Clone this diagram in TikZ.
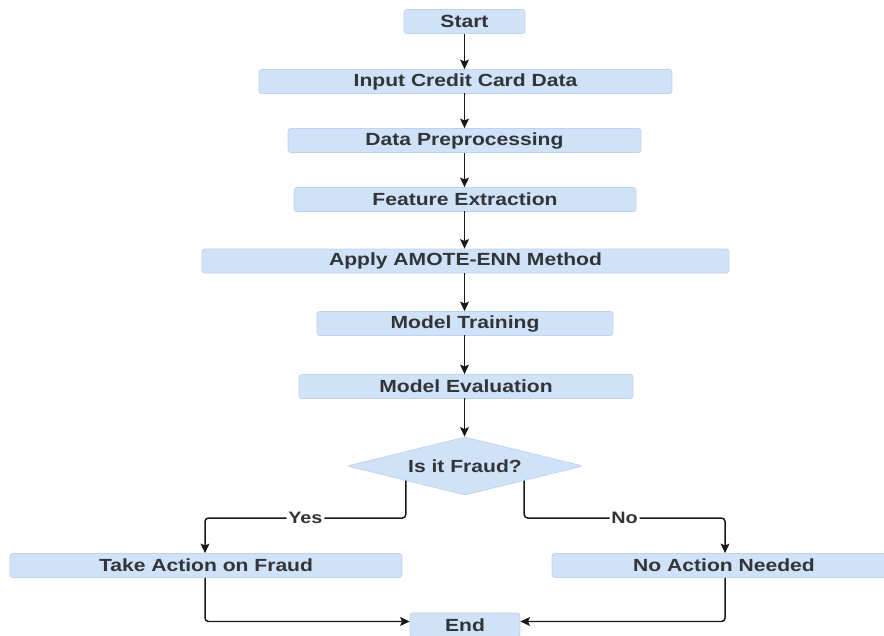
\documentclass[tikz,border=0pt]{standalone}
\usepackage{fontspec}
\setmainfont{Liberation Sans}[FakeStretch=1.2]
\usetikzlibrary{shapes.geometric,arrows.meta}
\definecolor{boxfill}{RGB}{207,226,248}
\definecolor{boxline}{RGB}{192,211,238}
\definecolor{textgrey}{RGB}{50,52,56}
\tikzset{
  stepbox/.style={draw=boxline, fill=boxfill, rounded corners=1.5pt, inner sep=0pt,
    minimum height=0.48cm, text=textgrey, font=\fontsize{10}{12}\selectfont\bfseries},
  decision/.style={stepbox, diamond, rounded corners=1pt, aspect=4.07,
    minimum width=4.72cm, minimum height=1.16cm},
  flow/.style={draw=black!90, line width=0.85pt, -{Stealth[length=5.4pt,width=5pt,inset=1pt]}},
  answer/.style={fill=white, inner sep=1pt, text=textgrey, font=\fontsize{9.4}{11}\selectfont\bfseries}
}
\begin{document}
\begin{tikzpicture}[x=0.02cm,y=-0.02cm]
      \useasboundingbox (0,0) rectangle (884,635);
      \node[stepbox, minimum width=2.42cm] (start) at (464.5,21.5) {Start};
      \node[stepbox, minimum width=8.26cm] (input) at (465.5,81.5) {Input Credit Card Data};
      \node[stepbox, minimum width=7.06cm] (prep) at (464.5,140.5) {Data Preprocessing};
      \node[stepbox, minimum width=6.84cm] (feat) at (465,199.5) {Feature Extraction};
      \node[stepbox, minimum width=10.54cm] (amote) at (465.5,261) {Apply AMOTE-ENN Method};
      \node[stepbox, minimum width=5.92cm] (train) at (465,323.5) {Model Training};
      \node[stepbox, minimum width=6.68cm] (eval) at (466,386.5) {Model Evaluation};
      \node[decision] (fraud) at (465,466) {Is it Fraud?};
      \node[stepbox, minimum width=7.84cm] (action) at (206,565.5) {Take Action on Fraud};
      \node[stepbox, minimum width=6.88cm] (noaction) at (724,565.5) {No Action Needed};
      \node[stepbox, minimum width=2.2cm] (end) at (465,625) {End};
      \coordinate (yes) at (205,518);
      \coordinate (no) at (725,518);
      \begin{scope}[flow]
        \draw (start) -- (start.south |- input.north);
        \draw (input) -- (input.south -| start) -- (start |- prep.north);
        \draw (prep) -- (prep.south -| start) -- (start |- feat.north);
        \draw (feat) -- (feat.south -| start) -- (start |- amote.north);
        \draw (amote) -- (amote.south -| start) -- (start |- train.north);
        \draw (train) -- (train.south -| start) -- (start |- eval.north);
        \draw (eval) -- (eval.south -| start) -- (start |- fraud.north);
        \draw[rounded corners=2pt] (fraud.south west) |- node[answer, pos=0.75] {Yes} (yes) -- (yes |- action.north);
        \draw[rounded corners=2pt] (fraud.south east) |- node[answer, pos=0.75] {No} (no) -- (no |- noaction.north);
        \draw[rounded corners=2pt] (yes |- action.south) |- ([yshift=2pt]end.west);
        \draw[rounded corners=2pt] (no |- noaction.south) |- ([yshift=2pt]end.east);
      \end{scope}
    \end{tikzpicture}
\end{document}
